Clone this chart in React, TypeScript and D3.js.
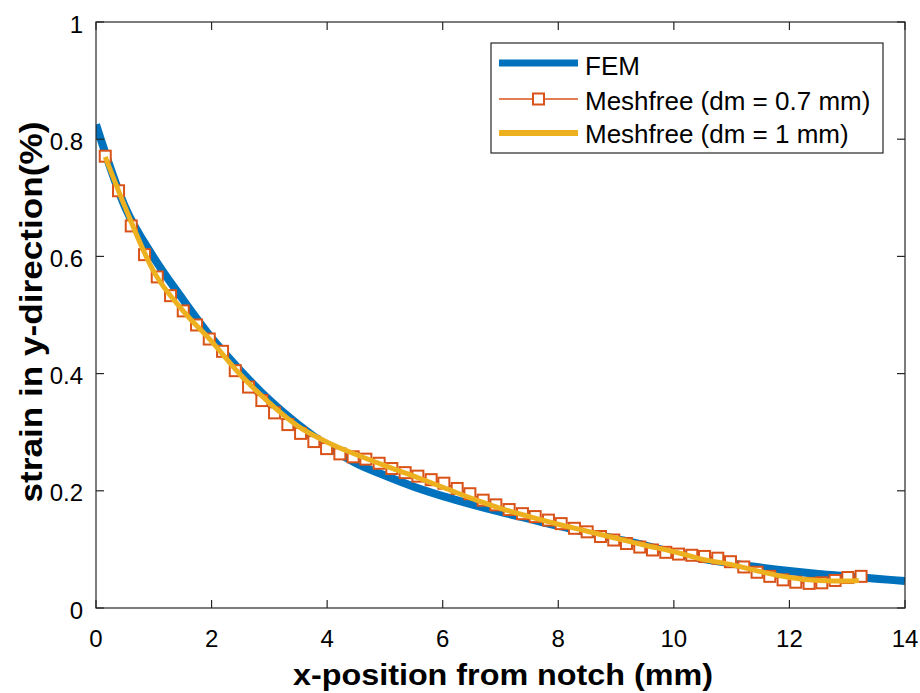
import React from "react";
import * as d3 from "d3";

// ---- data ----
const femX = [0, 0.5, 1, 1.5, 2, 2.5, 3, 3.5, 4, 4.5, 5, 5.5, 6, 6.5, 7, 7.5, 8, 8.5, 9, 9.5, 10, 10.5, 11, 11.5, 12, 12.5, 13, 13.5, 14];
const femY = [0.825, 0.685, 0.598, 0.527, 0.461, 0.405, 0.355, 0.313, 0.277, 0.247, 0.226, 0.207, 0.191, 0.177, 0.164, 0.152, 0.140, 0.129, 0.118, 0.107, 0.094, 0.084, 0.076, 0.069, 0.063, 0.058, 0.054, 0.050, 0.046];

const mf07X = [0.16, 0.39, 0.61, 0.84, 1.06, 1.29, 1.51, 1.74, 1.96, 2.19, 2.41, 2.64, 2.87, 3.09, 3.32, 3.54, 3.77, 3.99, 4.22, 4.45, 4.67, 4.90, 5.12, 5.35, 5.57, 5.80, 6.02, 6.25, 6.47, 6.70, 6.92, 7.15, 7.38, 7.60, 7.83, 8.05, 8.28, 8.50, 8.73, 8.96, 9.18, 9.41, 9.63, 9.86, 10.08, 10.31, 10.53, 10.76, 10.98, 11.21, 11.44, 11.66, 11.89, 12.11, 12.34, 12.56, 12.79, 13.01, 13.24];
const mf07Y = [0.771, 0.712, 0.652, 0.603, 0.565, 0.533, 0.507, 0.483, 0.459, 0.438, 0.405, 0.377, 0.354, 0.333, 0.313, 0.298, 0.284, 0.272, 0.263, 0.258, 0.254, 0.247, 0.238, 0.231, 0.225, 0.219, 0.213, 0.204, 0.195, 0.184, 0.176, 0.168, 0.161, 0.156, 0.150, 0.144, 0.136, 0.130, 0.122, 0.116, 0.110, 0.104, 0.099, 0.095, 0.092, 0.090, 0.088, 0.085, 0.079, 0.070, 0.061, 0.054, 0.048, 0.044, 0.042, 0.043, 0.047, 0.052, 0.054];

const mf1X = [0.16, 0.5, 1, 1.5, 2, 2.5, 3, 3.5, 4, 4.5, 5, 5.5, 6, 6.5, 7, 7.5, 8, 8.5, 9, 9.5, 10, 10.5, 11, 11.5, 12, 12.5, 13, 13.2];
const mf1Y = [0.770, 0.685, 0.574, 0.508, 0.455, 0.398, 0.350, 0.310, 0.283, 0.262, 0.243, 0.225, 0.206, 0.187, 0.170, 0.156, 0.143, 0.131, 0.119, 0.107, 0.096, 0.083, 0.074, 0.062, 0.052, 0.047, 0.046, 0.047];

const xTicks = [0, 2, 4, 6, 8, 10, 12, 14];
const yTicks = [0, 0.2, 0.4, 0.6, 0.8, 1];
const legendLabels = ["FEM", "Meshfree (dm = 0.7 mm)", "Meshfree (dm = 1 mm)"];

const W = 920, H = 693;
const L = 96, R = 905, T = 22, B = 608;
const FONT = "'Liberation Sans', Arial, Helvetica, sans-serif";
const AX = "#262626";
const BLUE = "#0072BD", ORANGE = "#D95319", YELLOW = "#EDB120";

export default function App() {
  const x = d3.scaleLinear().domain([0, 14]).range([L, R]);
  const y = d3.scaleLinear().domain([0, 1]).range([B, T]);
  const line = d3.line<[number, number]>().x(d => x(d[0])).y(d => y(d[1])).curve(d3.curveMonotoneX);
  const lineLin = d3.line<[number, number]>().x(d => x(d[0])).y(d => y(d[1]));
  const fem = femX.map((v, i) => [v, femY[i]] as [number, number]);
  const mf07 = mf07X.map((v, i) => [v, mf07Y[i]] as [number, number]);
  const mf1 = mf1X.map((v, i) => [v, mf1Y[i]] as [number, number]);
  const ms = 11;
  const legY = [63, 99, 133];
  const tickLen = 8;

  return (
    <svg width={W} height={H} style={{ position: "absolute", left: 0, top: 0, background: "#fff" }}>
      <rect x={0} y={0} width={W} height={H} fill="#fff" />
      <defs>
        <clipPath id="plot"><rect x={L} y={T} width={R - L} height={B - T} /></clipPath>
      </defs>
      <g clipPath="url(#plot)">
        <path d={line(fem) || ""} fill="none" stroke={BLUE} strokeWidth={8} />
        <path d={lineLin(mf07) || ""} fill="none" stroke={ORANGE} strokeWidth={1.5} />
        {mf07.map((d, i) => (
          <rect key={i} x={x(d[0]) - ms / 2} y={y(d[1]) - ms / 2} width={ms} height={ms} fill="#fff" stroke={ORANGE} strokeWidth={2} />
        ))}
        <path d={line(mf1) || ""} fill="none" stroke={YELLOW} strokeWidth={5} />
      </g>
      {/* axes box */}
      <rect x={L} y={T} width={R - L} height={B - T} fill="none" stroke={AX} strokeWidth={1.2} />
      {xTicks.map(t => (
        <g key={"x" + t}>
          <line x1={x(t)} x2={x(t)} y1={B} y2={B - tickLen} stroke={AX} strokeWidth={1.2} />
          <line x1={x(t)} x2={x(t)} y1={T} y2={T + tickLen} stroke={AX} strokeWidth={1.2} />
          <text x={x(t)} y={647} textAnchor="middle" fontFamily={FONT} fontSize={24} fill="#000">{t}</text>
        </g>
      ))}
      {yTicks.map(t => (
        <g key={"y" + t}>
          <line x1={L} x2={L + tickLen} y1={y(t)} y2={y(t)} stroke={AX} strokeWidth={1.2} />
          <line x1={R} x2={R - tickLen} y1={y(t)} y2={y(t)} stroke={AX} strokeWidth={1.2} />
          <text x={83} y={y(t) + 10.5} textAnchor="end" fontFamily={FONT} fontSize={24} fill="#000">{String(t)}</text>
        </g>
      ))}
      <text x={503} y={685} textAnchor="middle" fontFamily={FONT} fontWeight="bold" fontSize={30} textLength={420} lengthAdjust="spacingAndGlyphs" fill="#000">x-position from notch (mm)</text>
      <text transform="translate(42,312) rotate(-90)" textAnchor="middle" fontFamily={FONT} fontWeight="bold" fontSize={31} textLength={381} lengthAdjust="spacingAndGlyphs" fill="#000">strain in y-direction(%)</text>
      {/* legend */}
      <rect x={491} y={43} width={392} height={110} fill="#fff" stroke={AX} strokeWidth={1.2} />
      <line x1={499} x2={578} y1={legY[0]} y2={legY[0]} stroke={BLUE} strokeWidth={7} />
      <line x1={499} x2={578} y1={legY[1]} y2={legY[1]} stroke={ORANGE} strokeWidth={1.5} />
      <rect x={538.5 - ms / 2} y={legY[1] - ms / 2} width={ms} height={ms} fill="#fff" stroke={ORANGE} strokeWidth={2} />
      <line x1={499} x2={578} y1={legY[2]} y2={legY[2]} stroke={YELLOW} strokeWidth={6} />
      {legendLabels.map((s, i) => (
        <text key={s} x={585} y={[75, 109.5, 143][i]} fontFamily={FONT} fontSize={26} fill="#000">{s}</text>
      ))}
    </svg>
  );
}
